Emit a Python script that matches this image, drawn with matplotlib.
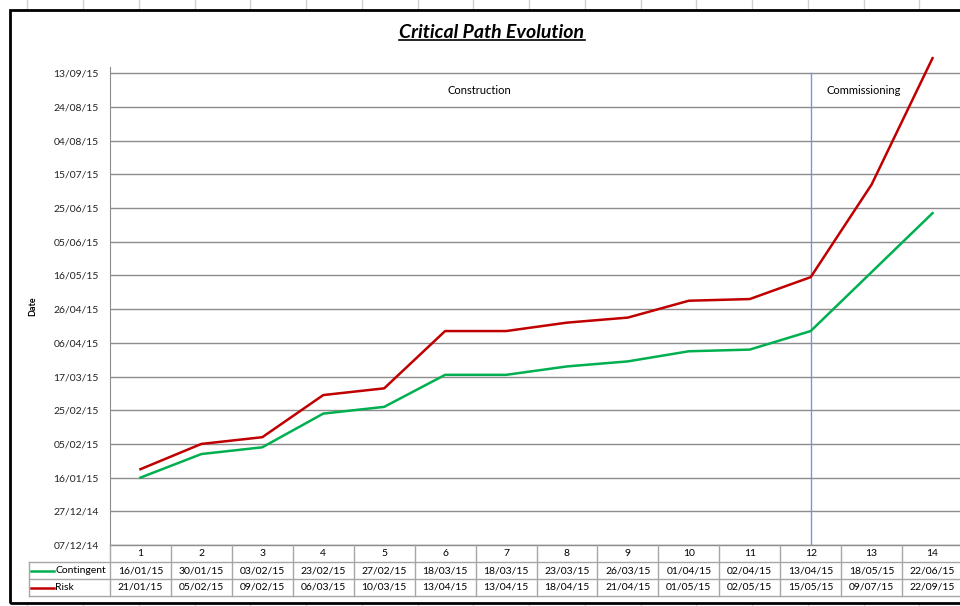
import datetime as dt
import matplotlib
matplotlib.use("Agg")
import matplotlib.pyplot as plt
import matplotlib.dates as mdates
from matplotlib.lines import Line2D
from matplotlib.patches import Rectangle

plt.rcParams['font.family'] = ['Lato', 'DejaVu Sans']

steps = list(range(1, 15))
contingent = ["16/01/15", "30/01/15", "03/02/15", "23/02/15", "27/02/15", "18/03/15", "18/03/15",
              "23/03/15", "26/03/15", "01/04/15", "02/04/15", "13/04/15", "18/05/15", "22/06/15"]
risk = ["21/01/15", "05/02/15", "09/02/15", "06/03/15", "10/03/15", "13/04/15", "13/04/15",
        "18/04/15", "21/04/15", "01/05/15", "02/05/15", "15/05/15", "09/07/15", "22/09/15"]
phases = ["Construction", "Commissioning"]
phase_split = 12
y_start = "07/12/14"
y_step_days = 20
n_ticks = 15


def to_num(s):
    return mdates.date2num(dt.datetime.strptime(s, "%d/%m/%y"))


W, H = 960, 606
fig = plt.figure(figsize=(W / 100, H / 100), dpi=100)

# pixel helpers (y measured from top)
def fx(px):
    return px / W


def fy(py):
    return 1 - py / H


left, right, bottom, top = 110, 963, 545, 67
ax = fig.add_axes([fx(left), fy(bottom), fx(right - left), fy(top) - fy(bottom)])

y0 = to_num(y_start)
yticks = [y0 + i * y_step_days for i in range(n_ticks)]
ax.set_ylim(y0, yticks[-1] + 3.75)
ax.set_xlim(0.5, 14.5)
ax.set_yticks(yticks)
ax.yaxis.set_major_formatter(mdates.DateFormatter("%d/%m/%y"))
ax.set_xticks([])
ax.tick_params(axis='y', length=0, pad=8, labelsize=7.5, labelcolor='#222222')
ax.grid(axis='y', color='#8c8c8c', linewidth=1.0)
ax.set_axisbelow(True)
for side in ['top', 'right', 'bottom']:
    ax.spines[side].set_visible(False)
ax.spines['left'].set_color('#8c8c8c')
ax.set_ylabel("Date", fontsize=6.5, fontweight='bold', labelpad=12)

c_vals = [to_num(s) for s in contingent]
r_vals = [to_num(s) for s in risk]
ax.plot(steps, c_vals, color='#00B050', linewidth=1.8, clip_on=False, zorder=3)
ax.plot(steps, r_vals, color='#C00000', linewidth=1.8, clip_on=False, zorder=4)
ax.plot([phase_split, phase_split], [y0, yticks[-1]], color='#6E9BDB', linewidth=1.0, zorder=2)

ax.text(6.56, yticks[-1] - 10, phases[0], ha='center', va='center', fontsize=8)
ax.text(12.87, yticks[-1] - 10, phases[1], ha='center', va='center', fontsize=8)

# data table under the chart
grey = '#a6a6a6'
row_edges = [545, 562, 579, 596]
col_w = (right - left) / 14
for r in row_edges[1:]:
    fig.add_artist(Line2D([fx(29), fx(right)], [fy(r), fy(r)], color=grey, linewidth=1.0))
fig.add_artist(Line2D([fx(left), fx(right)], [fy(545), fy(545)], color='#8c8c8c', linewidth=1.0))
fig.add_artist(Line2D([fx(29), fx(29)], [fy(562), fy(596)], color=grey, linewidth=1.0))
for i in range(15):
    x = left + i * col_w
    fig.add_artist(Line2D([fx(x), fx(x)], [fy(545), fy(596)], color=grey, linewidth=1.0))

for i, s in enumerate(steps):
    cx = left + (i + 0.5) * col_w
    fig.text(fx(cx), fy(553.5), str(s), ha='center', va='center', fontsize=7.5)
    fig.text(fx(cx), fy(570.5), contingent[i], ha='center', va='center', fontsize=7.5)
    fig.text(fx(cx), fy(587.5), risk[i], ha='center', va='center', fontsize=7.5)

fig.add_artist(Line2D([fx(31), fx(54)], [fy(570.5), fy(570.5)], color='#00B050', linewidth=1.8))
fig.add_artist(Line2D([fx(31), fx(54)], [fy(587.5), fy(587.5)], color='#C00000', linewidth=1.8))
fig.text(fx(55), fy(570.5), "Contingent", ha='left', va='center', fontsize=7.5)
fig.text(fx(55), fy(587.5), "Risk", ha='left', va='center', fontsize=7.5)

# title with underline
title = fig.text(fx(492), fy(32), "Critical Path Evolution", ha='center', va='center',
                 fontsize=14, fontweight='bold', fontstyle='italic')

# spreadsheet gridlines behind the chart and the chart border
for k in range(-1, 17):
    x = 83 + 55.75 * k
    fig.add_artist(Line2D([fx(x), fx(x)], [fy(0), fy(9)], color='#d0d0d0', linewidth=1.0, zorder=0))
    fig.add_artist(Line2D([fx(x), fx(x)], [fy(603), fy(606)], color='#d0d0d0', linewidth=1.0, zorder=0))
fig.add_artist(Rectangle((fx(10), fy(603)), fx(1000), fy(10) - fy(603), fill=False,
                         edgecolor='black', linewidth=2.0, transform=fig.transFigure))

fig.canvas.draw()
bb = title.get_window_extent().transformed(fig.transFigure.inverted())
fig.add_artist(Line2D([bb.x0, bb.x1], [bb.y0 + 0.001, bb.y0 + 0.001], color='black', linewidth=1.2))

fig.savefig("out.png", dpi=100)
